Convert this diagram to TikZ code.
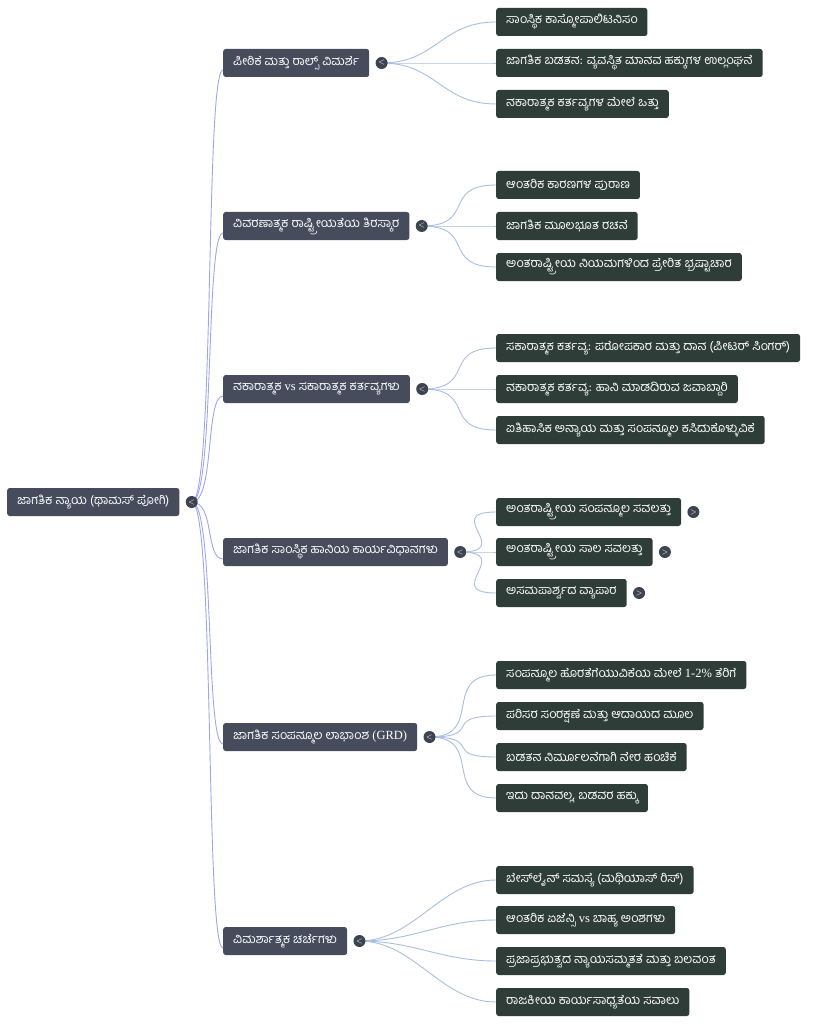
\documentclass[tikz,border=0pt]{standalone}
\usepackage{fontspec}
\setmainfont{Liberation Serif}
\newfontfamily\kn[Script=Kannada]{Hind Mysuru}
\usetikzlibrary{positioning,backgrounds}

\definecolor{rootcol}{HTML}{474C5D}
\definecolor{leafcol}{HTML}{2F3D39}
\definecolor{foldcol}{HTML}{3E4350}
\definecolor{trunkcol}{HTML}{9FA5EE}
\definecolor{twigcol}{HTML}{A9BEE0}

\tikzset{
  rootbox/.style={fill=rootcol, text=white, rounded corners=2.5pt, anchor=west,
    minimum height=28pt, inner xsep=10pt, inner ysep=0pt,
    font=\kn\fontsize{12.5}{14}\selectfont},
  topicbox/.style={rootbox},
  leafbox/.style={rootbox, fill=leafcol},
  fold/.style={circle, fill=foldcol, text=white, inner sep=0pt, minimum size=12pt,
    font=\sffamily\fontsize{8}{8}\selectfont},
  trunk/.style={draw=trunkcol, line width=0.9pt},
  twig/.style={draw=twigcol, line width=0.9pt},
}

\begin{document}
\begin{tikzpicture}[x=1pt,y=-1pt]
  \useasboundingbox (0,0) rectangle (827,1024);

  %% root
  \node[rootbox] (root) at (7,502) {ಜಾಗತಿಕ ನ್ಯಾಯ (ಥಾಮಸ್ ಪೋಗಿ)};
  \node[fold, right=6pt of root] (root-f) {<};

  %% topics
  \foreach \n/\y/\txt in {1/63/{ಪೀಠಿಕೆ ಮತ್ತು ರಾಲ್ಸ್ ವಿಮರ್ಶೆ},
      2/226/{ವಿವರಣಾತ್ಮಕ ರಾಷ್ಟ್ರೀಯತೆಯ ತಿರಸ್ಕಾರ},
      3/389/{ನಕಾರಾತ್ಮಕ {\rmfamily vs} ಸಕಾರಾತ್ಮಕ ಕರ್ತವ್ಯಗಳು},
      4/552/{ಜಾಗತಿಕ ಸಾಂಸ್ಥಿಕ ಹಾನಿಯ ಕಾರ್ಯವಿಧಾನಗಳು},
      5/737/{ಜಾಗತಿಕ ಸಂಪನ್ಮೂಲ ಲಾಭಾಂಶ {\rmfamily (GRD)}},
      6/941/{ವಿಮರ್ಶಾತ್ಮಕ ಚರ್ಚೆಗಳು}}
  {
    \node[topicbox] (t\n) at (223,\y) {\txt};
    \node[fold, right=6pt of t\n] (t\n-f) {<};
    \begin{pgfonlayer}{background}
      \draw[trunk] (root-f.center) .. controls (215,502) and (205,\y+7) .. (t\n.west |- 0,\y+7);
    \end{pgfonlayer}
  }

  %% leaves
  \foreach \g/\y/\txt in {1/22/{ಸಾಂಸ್ಥಿಕ ಕಾಸ್ಮೋಪಾಲಿಟನಿಸಂ},
      1/63/{ಜಾಗತಿಕ ಬಡತನ: ವ್ಯವಸ್ಥಿತ ಮಾನವ ಹಕ್ಕುಗಳ ಉಲ್ಲಂಘನೆ},
      1/104/{ನಕಾರಾತ್ಮಕ ಕರ್ತವ್ಯಗಳ ಮೇಲೆ ಒತ್ತು},
      2/185/{ಆಂತರಿಕ ಕಾರಣಗಳ ಪುರಾಣ},
      2/226/{ಜಾಗತಿಕ ಮೂಲಭೂತ ರಚನೆ},
      2/267/{ಅಂತರಾಷ್ಟ್ರೀಯ ನಿಯಮಗಳಿಂದ ಪ್ರೇರಿತ ಭ್ರಷ್ಟಾಚಾರ},
      3/348/{ಸಕಾರಾತ್ಮಕ ಕರ್ತವ್ಯ: ಪರೋಪಕಾರ ಮತ್ತು ದಾನ (ಪೀಟರ್ ಸಿಂಗರ್)},
      3/389/{ನಕಾರಾತ್ಮಕ ಕರ್ತವ್ಯ: ಹಾನಿ ಮಾಡದಿರುವ ಜವಾಬ್ದಾರಿ},
      3/430/{ಐತಿಹಾಸಿಕ ಅನ್ಯಾಯ ಮತ್ತು ಸಂಪನ್ಮೂಲ ಕಸಿದುಕೊಳ್ಳುವಿಕೆ},
      4/512/{ಅಂತರಾಷ್ಟ್ರೀಯ ಸಂಪನ್ಮೂಲ ಸವಲತ್ತು},
      4/552/{ಅಂತರಾಷ್ಟ್ರೀಯ ಸಾಲ ಸವಲತ್ತು},
      4/593/{ಅಸಮಪಾರ್ಶ್ವದ ವ್ಯಾಪಾರ},
      5/675/{ಸಂಪನ್ಮೂಲ ಹೊರತೆಗೆಯುವಿಕೆಯ ಮೇಲೆ {\rmfamily 1-2\%} ತೆರಿಗೆ},
      5/716/{ಪರಿಸರ ಸಂರಕ್ಷಣೆ ಮತ್ತು ಆದಾಯದ ಮೂಲ},
      5/757/{ಬಡತನ ನಿರ್ಮೂಲನೆಗಾಗಿ ನೇರ ಹಂಚಿಕೆ},
      5/798/{ಇದು ದಾನವಲ್ಲ, ಬಡವರ ಹಕ್ಕು},
      6/880/{ಬೇಸ್‌ಲೈನ್ ಸಮಸ್ಯೆ (ಮಥಿಯಾಸ್ ರಿಸ್)},
      6/920/{ಆಂತರಿಕ ಏಜೆನ್ಸಿ {\rmfamily vs} ಬಾಹ್ಯ ಅಂಶಗಳು},
      6/961/{ಪ್ರಜಾಪ್ರಭುತ್ವದ ನ್ಯಾಯಸಮ್ಮತತೆ ಮತ್ತು ಬಲವಂತ},
      6/1002/{ರಾಜಕೀಯ ಕಾರ್ಯಸಾಧ್ಯತೆಯ ಸವಾಲು}}
  {
    \node[leafbox] (l\g-\y) at (496,\y) {\txt};
    \begin{pgfonlayer}{background}
      \draw[twig] (t\g-f.center) .. controls +(55,0) and +(-55,0) .. (l\g-\y.west);
    \end{pgfonlayer}
  }

  %% folded leaves
  \foreach \y in {512,552,593}
    \node[fold, right=6pt of l4-\y] (l4-\y-f) {>};
\end{tikzpicture}
\end{document}
